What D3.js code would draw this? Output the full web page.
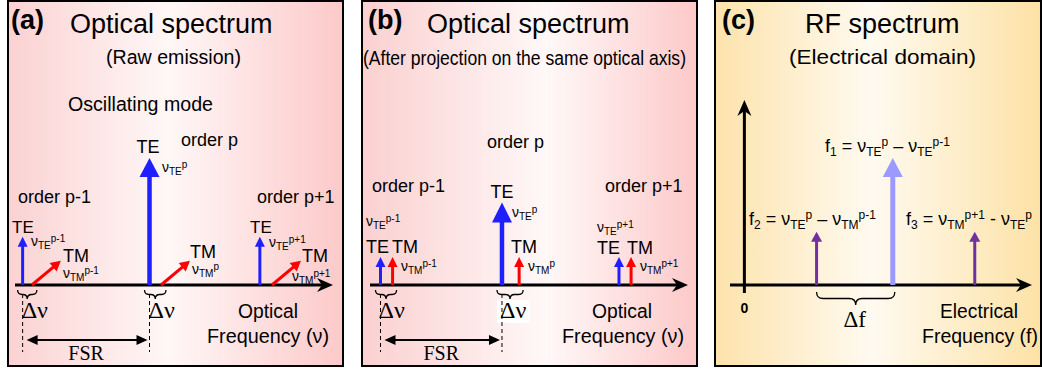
<!DOCTYPE html>
<html><head><meta charset="utf-8">
<script src="https://cdn.jsdelivr.net/npm/d3@7"></script>
<style>body{margin:0;background:#fff}svg{display:block}text{font-family:"Liberation Sans",Arial,sans-serif;fill:#000}</style>
</head><body>
<script>
// ---------- data ----------
const orders = ["order p-1", "order p", "order p+1"];
// panel (a): raw emission, positions in arbitrary optical-frequency units (axis 0..100)
const aTE = [2.4, 42.3, 77.0];
const aTM = [5.3, 45.9, 80.8];
const aTEamp = [0.38, 1.0, 0.38];
const aTMamp = [0.19, 0.19, 0.19];
// panel (b): after projection
const bTE = [3.3, 41.5, 78.3];
const bTM = [7.1, 46.9, 82.1];
const bTEamp = [0.22, 0.65, 0.22];
const bTMamp = [0.22, 0.22, 0.22];
// panel (c): RF beat notes (f2, f1, f3)
const rfNames = ["f2", "f1", "f3"];
const rfFreq = [25.1, 51.6, 80.1];
const rfAmp = [0.42, 1.0, 0.42];
const supOrders = ["p-1", "p", "p+1"];

const W = 1042, H = 370;
const svg = d3.select("body").append("svg").attr("width", W).attr("height", H);
const defs = svg.append("defs");
function grad(id, stops) {
  const g = defs.append("linearGradient").attr("id", id).attr("x1", "0%").attr("x2", "100%").attr("y1", "0%").attr("y2", "0%");
  stops.forEach(s => g.append("stop").attr("offset", s[0]).attr("stop-color", s[1]));
}
grad("ga", [["0%", "#fbd2d2"], ["48%", "#fff7f7"], ["100%", "#fdc9c9"]]);
grad("gb", [["0%", "#fbd0d0"], ["55%", "#fff8f8"], ["100%", "#fdc9c9"]]);
grad("gc", [["0%", "#fde3ac"], ["48%", "#fffaf0"], ["100%", "#fde2a6"]]);

svg.append("rect").attr("x", 8).attr("y", 1).attr("width", 335).attr("height", 365).attr("fill", "url(#ga)").attr("stroke", "#000").attr("stroke-width", 2);
svg.append("rect").attr("x", 362).attr("y", 1).attr("width", 335).attr("height", 365).attr("fill", "url(#gb)").attr("stroke", "#000").attr("stroke-width", 2);
svg.append("rect").attr("x", 715).attr("y", 1).attr("width", 326).attr("height", 365).attr("fill", "url(#gc)").attr("stroke", "#000").attr("stroke-width", 2);

const amp = d3.scaleLinear().domain([0, 1]).range([285, 158]);
const BLUE = "#1f1fff", RED = "#ff0000", LAV = "#9a9aff", PUR = "#7030a0";

function txt(x, y, s, size, opts = {}) {
  const t = svg.append("text").attr("x", x).attr("y", y).style("font-size", size + "px").text(s);
  if (opts.anchor) t.attr("text-anchor", opts.anchor);
  if (opts.bold) t.style("font-weight", "bold");
  if (opts.serif) t.style("font-family", '"Liberation Serif","Times New Roman",serif');
  if (opts.len) t.attr("textLength", opts.len).attr("lengthAdjust", "spacingAndGlyphs");
  return t;
}
// rich text: segments [text, mode] mode: 0 normal, 1 sub, 2 sup
function rich(x, y, segs, size, small, subOff, supOff) {
  const t = svg.append("text").attr("x", x).attr("y", y).style("font-size", size + "px");
  let cur = 0;
  segs.forEach(([s, m]) => {
    const target = m === 1 ? subOff : m === 2 ? -supOff : 0;
    t.append("tspan").attr("dy", target - cur).style("font-size", (m ? small : size) + "px").text(s);
    cur = target;
  });
  return t;
}
function nu(x, y, sub, sup) {
  return rich(x, y, [["ν", 0], [sub, 1], [sup, 2]], 14, 10, 3, 4.5);
}
function vArrow(x, y0, y1, color, lw, hw, hl) {
  svg.append("line").attr("x1", x).attr("x2", x).attr("y1", y0).attr("y2", y1 + hl - 1).attr("stroke", color).attr("stroke-width", lw);
  svg.append("path").attr("d", `M${x},${y1} L${x - hw / 2},${y1 + hl} L${x + hw / 2},${y1 + hl} Z`).attr("fill", color);
}
function dArrow(x0, y0, x1, y1, color, lw, hw, hl) {
  const a = Math.atan2(y1 - y0, x1 - x0), c = Math.cos(a), s = Math.sin(a);
  const bx = x1 - hl * c, by = y1 - hl * s;
  svg.append("line").attr("x1", x0).attr("y1", y0).attr("x2", bx + c).attr("y2", by + s).attr("stroke", color).attr("stroke-width", lw);
  svg.append("path").attr("d", `M${x1},${y1} L${bx - s * hw / 2},${by + c * hw / 2} L${bx + s * hw / 2},${by - c * hw / 2} Z`).attr("fill", color);
}
function axisH(x0, x1, y) {
  svg.append("line").attr("x1", x0).attr("x2", x1 - 10).attr("y1", y).attr("y2", y).attr("stroke", "#000").attr("stroke-width", 3);
  svg.append("path").attr("d", `M${x1},${y} L${x1 - 16},${y - 7} L${x1 - 11},${y} L${x1 - 16},${y + 7} Z`).attr("fill", "#000");
}
function brace(x1, x2, y, h) {
  const m = (x1 + x2) / 2, r = Math.min(h / 2, (x2 - x1) / 4);
  svg.append("path").attr("fill", "none").attr("stroke", "#000").attr("stroke-width", 1.3)
    .attr("d", `M${x1},${y} Q${x1},${y + h / 2} ${x1 + r},${y + h / 2} L${m - r},${y + h / 2} Q${m},${y + h / 2} ${m},${y + h} Q${m},${y + h / 2} ${m + r},${y + h / 2} L${x2 - r},${y + h / 2} Q${x2},${y + h / 2} ${x2},${y}`);
}
function fsr(xa, xb) {
  [xa, xb].forEach(x => svg.append("line").attr("x1", x).attr("x2", x).attr("y1", 294).attr("y2", 352).attr("stroke", "#000").attr("stroke-width", 1).attr("stroke-dasharray", "4,3"));
  const y = 340, l = xa + 4, r = xb - 2;
  svg.append("line").attr("x1", l + 8).attr("x2", r - 8).attr("y1", y).attr("y2", y).attr("stroke", "#000").attr("stroke-width", 2);
  svg.append("path").attr("d", `M${l},${y} L${l + 11},${y - 5} L${l + 11},${y + 5} Z M${r},${y} L${r - 11},${y - 5} L${r - 11},${y + 5} Z`).attr("fill", "#000");
  txt((xa + xb) / 2, 360, "FSR", 20, { anchor: "middle", serif: true });
}

// ---------- panel (a) ----------
const xa = d3.scaleLinear().domain([0, 100]).range([15, 333]);
txt(11, 29, "(a)", 27, { bold: true });
txt(70, 33, "Optical spectrum", 27);
txt(106, 64, "(Raw emission)", 20, { len: 135 });
txt(68, 111, "Oscillating mode", 20, { len: 145 });
axisH(xa(0), xa(100), 285);
aTE.forEach((f, i) => {
  const big = aTEamp[i] > 0.5;
  vArrow(xa(f), 285, amp(aTEamp[i]), BLUE, big ? 4.5 : 3, big ? 20 : 10, big ? 19 : 10);
  const dy = amp(0) - amp(aTMamp[i]);
  dArrow(xa(aTM[i]), 285, xa(aTM[i]) + dy * 1.2, 285 - dy, RED, 3, 11, 10);
});
txt(148, 153, "TE", 18, { anchor: "middle" });
txt(181, 146, orders[1], 18);
nu(162, 172, "TE", supOrders[1]);
txt(18, 203, orders[0], 18);
txt(257, 203, orders[2], 18);
txt(12, 233, "TE", 17);
nu(31, 246, "TE", supOrders[0]);
txt(250, 233, "TE", 17);
nu(269, 247, "TE", supOrders[2]);
txt(63, 262, "TM", 18);
nu(63, 278, "TM", supOrders[0]);
txt(190, 258, "TM", 18);
nu(192, 274, "TM", supOrders[1]);
txt(302, 262, "TM", 18);
nu(292, 281, "TM", supOrders[2]);
[0, 1].forEach(i => {
  brace(xa(aTE[i]) - 5, xa(aTM[i]) + 5, 290, 9);
  txt(xa(aTE[i]) - 1, 318, "Δν", 24, { serif: true });
});
fsr(xa(aTE[0]), xa(aTE[1]));
txt(238, 318, "Optical", 20, { len: 60 });
txt(207, 343, "Frequency (ν)", 20, { len: 122 });

// ---------- panel (b) ----------
const xb = d3.scaleLinear().domain([0, 100]).range([370, 688]);
txt(368, 29, "(b)", 27, { bold: true });
txt(427, 33, "Optical spectrum", 27);
txt(363, 65, "(After projection on the same optical axis)", 20, { len: 323 });
txt(487, 148, orders[1], 18);
txt(372, 192, orders[0], 18);
txt(605, 192, orders[2], 18);
axisH(xb(0), xb(100), 285);
bTE.forEach((f, i) => {
  const big = bTEamp[i] > 0.5;
  vArrow(xb(f), 285, amp(bTEamp[i]), BLUE, big ? 4.5 : 3, big ? 20 : 10, big ? 20 : 10);
  vArrow(xb(bTM[i]), 285, amp(bTMamp[i]), RED, 3, 10, 10);
});
txt(502, 198, "TE", 18, { anchor: "middle" });
nu(512, 217, "TE", supOrders[1]);
txt(511, 253, "TM", 18);
nu(528, 271, "TM", supOrders[1]);
nu(366, 226, "TE", supOrders[0]);
txt(366, 253, "TE", 18);
txt(392, 253, "TM", 18);
nu(401, 271, "TM", supOrders[0]);
nu(597, 232, "TE", supOrders[2]);
txt(597, 254, "TE", 18);
txt(627, 254, "TM", 18);
nu(640, 271, "TM", supOrders[2]);
svg.append("rect").attr("x", 497).attr("y", 300).attr("width", 33).attr("height", 23).attr("fill", "#fff");
[0, 1].forEach(i => {
  brace(xb(bTE[i]) - 5, xb(bTM[i]) + 4, 290, 9);
  txt(xb(bTE[i]) - 2, 318, "Δν", 24, { serif: true });
});
fsr(xb(bTE[0]), xb(bTE[1]));
txt(592, 318, "Optical", 20, { len: 60 });
txt(562, 343, "Frequency (ν)", 20, { len: 122 });

// ---------- panel (c) ----------
const xc = d3.scaleLinear().domain([-5, 100]).range([730, 1032]);
txt(722, 29, "(c)", 27, { bold: true });
txt(805, 33, "RF spectrum", 27);
txt(789, 64, "(Electrical domain)", 21, { len: 187 });
axisH(xc(-5), xc(100), 285);
// vertical axis
svg.append("line").attr("x1", xc(0)).attr("x2", xc(0)).attr("y1", 293).attr("y2", 110).attr("stroke", "#000").attr("stroke-width", 3);
svg.append("path").attr("d", `M${xc(0)},100 L${xc(0) - 7},116 L${xc(0)},111 L${xc(0) + 7},116 Z`).attr("fill", "#000");
txt(xc(0), 313, "0", 14, { bold: true, anchor: "middle" });
rfFreq.forEach((f, i) => {
  const big = rfAmp[i] > 0.5;
  vArrow(xc(f), 285, amp(rfAmp[i]), big ? LAV : PUR, big ? 5 : 3, big ? 20 : 11, big ? 19 : 10);
});
rich(825, 152, [["f", 0], ["1", 1], [" = ν", 0], ["TE", 1], ["p", 2], [" – ν", 0], ["TE", 1], ["p-1", 2]], 18, 12, 4, 6);
rich(749, 225, [["f", 0], ["2", 1], [" = ν", 0], ["TE", 1], ["p", 2], [" – ν", 0], ["TM", 1], ["p-1", 2]], 18, 12, 4, 6);
rich(906, 225, [["f", 0], ["3", 1], [" = ν", 0], ["TM", 1], ["p+1", 2], [" - ν", 0], ["TE", 1], ["p", 2]], 18, 12, 4, 6);
brace(xc(rfFreq[0]), xc(rfFreq[1]) + 2, 292, 13);
txt((xc(rfFreq[0]) + xc(rfFreq[1])) / 2, 327, "Δf", 23, { serif: true, anchor: "middle" });
txt(940, 318, "Electrical", 20, { len: 78 });
txt(922, 343, "Frequency (f)", 20, { len: 116 });
</script>
</body></html>
